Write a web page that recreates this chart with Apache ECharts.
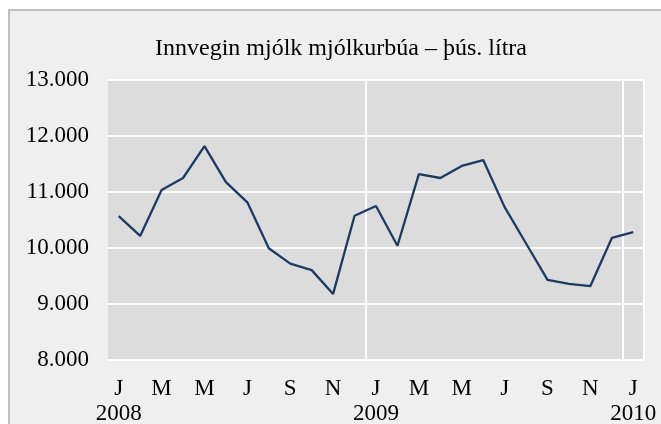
<!DOCTYPE html>
<html>
<head>
<meta charset="utf-8">
<script src="https://cdn.jsdelivr.net/npm/echarts@6/dist/echarts.min.js"></script>
<style>
html,body{margin:0;padding:0;background:#ffffff;}
#chart{width:661px;height:424px;}
</style>
</head>
<body>
<div id="chart"></div>
<script>
const titleText = 'Innvegin mjólk mjólkurbúa – þús. lítra';
const categories = [
  '2008-01','2008-02','2008-03','2008-04','2008-05','2008-06','2008-07','2008-08','2008-09','2008-10','2008-11','2008-12',
  '2009-01','2009-02','2009-03','2009-04','2009-05','2009-06','2009-07','2009-08','2009-09','2009-10','2009-11','2009-12',
  '2010-01'
];
const monthLetters = ['J','F','M','A','M','J','J','A','S','O','N','D'];
const values = [
  10570, 10215, 11035, 11250, 11820, 11175, 10815, 9995, 9720, 9605, 9180, 10575,
  10750, 10040, 11320, 11250, 11465, 11570, 10730, 10080, 9430, 9360, 9320, 10180,
  10285
];
const yMin = 8000, yMax = 13000, yStep = 1000;

const font = 'Liberation Serif';
const chart = echarts.init(document.getElementById('chart'));
chart.setOption({
  backgroundColor: '#ffffff',
  animation: false,
  graphic: [{
    type: 'rect', z: -10, silent: true,
    shape: { x: 9, y: 10, width: 700, height: 500 },
    style: { fill: '#efefef', stroke: '#bfbfbf', lineWidth: 2 }
  }],
  title: {
    text: titleText,
    left: 155,
    top: 37,
    padding: 0,
    textStyle: { fontFamily: font, fontSize: 24, fontWeight: 'normal', color: '#000' }
  },
  grid: {
    left: 108, right: 17, top: 80, bottom: 64,
    outerBoundsMode: 'none',
    containLabel: false,
    show: true, backgroundColor: '#dcdcdc', borderWidth: 0
  },
  xAxis: {
    type: 'category',
    data: categories,
    boundaryGap: true,
    axisLine: { show: false },
    axisTick: { show: false },
    axisLabel: {
      interval: 1,
      margin: 16,
      fontFamily: font, fontSize: 23, color: '#000', lineHeight: 25,
      formatter: function (v) {
        const parts = v.split('-');
        const m = parseInt(parts[1], 10);
        let s = monthLetters[m - 1];
        if (m === 1) s += '\n' + parts[0];
        return s;
      }
    },
    splitLine: {
      show: true,
      interval: function (idx) { return idx === 12 || idx === 24; },
      lineStyle: { color: '#ffffff', width: 2 }
    }
  },
  yAxis: {
    type: 'value',
    min: yMin, max: yMax, interval: yStep,
    axisLine: { show: false },
    axisTick: { show: false },
    axisLabel: {
      margin: 19,
      fontFamily: font, fontSize: 23, color: '#000',
      formatter: function (v) { return (v / 1000).toFixed(0) + '.000'; }
    },
    splitLine: { show: true, lineStyle: { color: '#ffffff', width: 2 } }
  },
  series: [{
    type: 'line',
    data: values,
    symbol: 'none',
    lineStyle: { color: '#1f3a5f', width: 2.3 }
  }]
});
</script>
</body>
</html>
